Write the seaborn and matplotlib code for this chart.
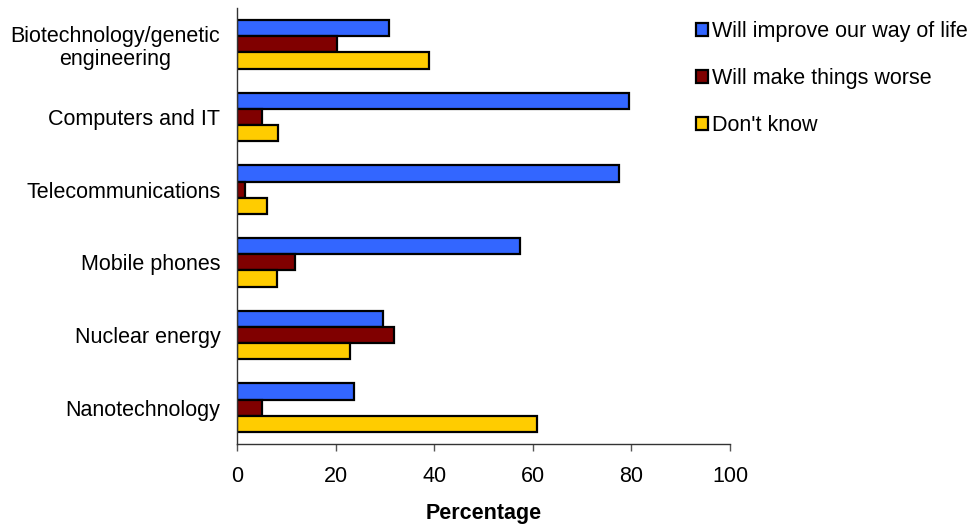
import pandas as pd
import matplotlib
matplotlib.use("Agg")
import matplotlib.pyplot as plt
import seaborn as sns

categories = ["Biotechnology/genetic\nengineering", "Computers and IT", "Telecommunications",
              "Mobile phones", "Nuclear energy", "Nanotechnology"]
responses = ["Will improve our way of life", "Will make things worse", "Don't know"]
improve = [30.9, 79.6, 77.5, 57.5, 29.6, 23.8]
worse = [20.3, 5.1, 1.6, 11.8, 31.9, 5.1]
dont_know = [39.0, 8.3, 6.1, 8.1, 23.0, 60.8]
colors = ["#3366FF", "#800000", "#FFCC00"]

rows = []
for resp, vals in zip(responses, [improve, worse, dont_know]):
    for cat, v in zip(categories, vals):
        rows.append({"Category": cat, "Response": resp, "Percentage": v})
df = pd.DataFrame(rows)

sns.set_style("white")
plt.rcParams["font.family"] = ["Liberation Sans", "DejaVu Sans"]
plt.rcParams["text.color"] = "black"
plt.rcParams["axes.labelcolor"] = "black"

fs = 15.5
fig = plt.figure(figsize=(9.72, 5.25), dpi=100)
ax = fig.add_axes([237 / 972, 1 - 444 / 525, 493 / 972, 436 / 525])

sns.barplot(data=df, y="Category", x="Percentage", hue="Response", hue_order=responses,
            order=categories, palette=dict(zip(responses, colors)), orient="h",
            width=0.67, edgecolor="black", linewidth=1.6, saturation=1, ax=ax)

ax.set_xlim(0, 100)
ax.set_xticks([0, 20, 40, 60, 80, 100])
ax.set_ylabel("")
ax.set_xlabel("Percentage", fontsize=fs, fontweight="bold", labelpad=11.5)
ax.tick_params(axis="x", labelsize=fs, length=5, width=1, color="#555555", direction="out",
               bottom=True, pad=11, labelcolor="black")
ax.tick_params(axis="y", labelsize=fs, length=0, pad=12, labelcolor="black")
for lbl in ax.get_yticklabels():
    lbl.set_multialignment("center")
    lbl.set_linespacing(1.15)
sns.despine(ax=ax)
for s in ["left", "bottom"]:
    ax.spines[s].set_color("#333333")
    ax.spines[s].set_linewidth(1)

ax.get_legend().remove()
handles, labels = ax.get_legend_handles_labels()
fig.legend(handles, labels, loc="upper left", bbox_to_anchor=(696 / 972, 1 - 21 / 525),
           frameon=False, fontsize=fs, handlelength=0.55, handleheight=0.55,
           handletextpad=0.2, labelspacing=1.2, borderaxespad=0, borderpad=0)

fig.savefig("out.png", dpi=100)
